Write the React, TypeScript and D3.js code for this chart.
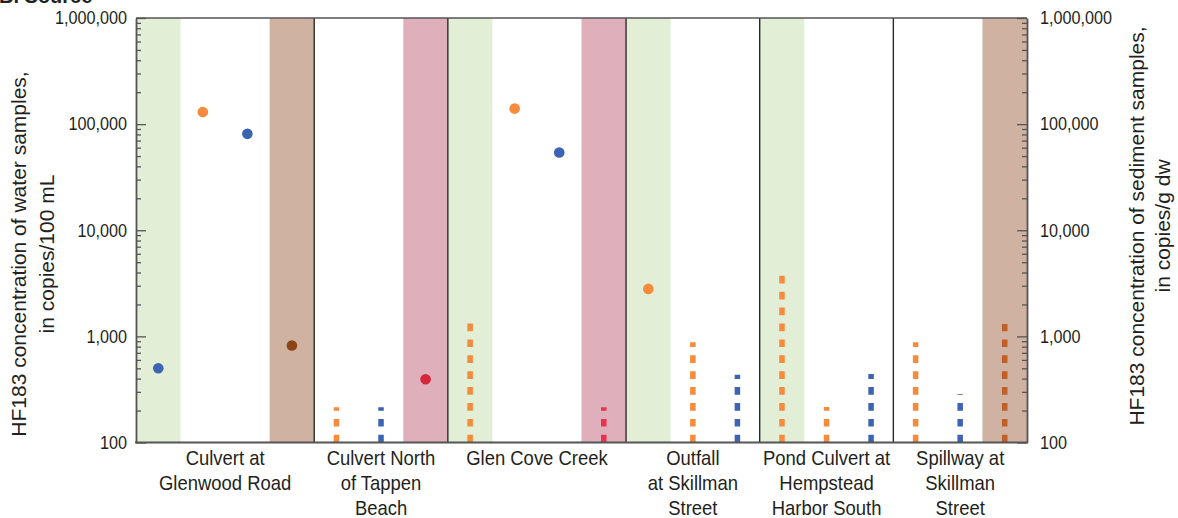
import { useEffect, useRef } from 'react';
import * as d3 from 'd3';

// sites along the x axis, each label split into its printed lines
const siteLabels: string[][] = [
  ['Culvert at', 'Glenwood Road'],
  ['Culvert North', 'of Tappen', 'Beach'],
  ['Glen Cove Creek'],
  ['Outfall', 'at Skillman', 'Street'],
  ['Pond Culvert at', 'Hempstead', 'Harbor South'],
  ['Spillway at', 'Skillman', 'Street'],
];

// one entry per sample slot (20 slots, left to right)
const slotSite = [0, 0, 0, 0, 1, 1, 1, 2, 2, 2, 2, 3, 3, 3, 4, 4, 4, 5, 5, 5];
const slotBand = [
  'green', 'none', 'none', 'brown',
  'none', 'none', 'pink',
  'green', 'none', 'none', 'pink',
  'green', 'none', 'none',
  'green', 'none', 'none',
  'none', 'none', 'brown',
];
// water = dot (left axis), sediment = dashed bar (right axis)
const slotKind = [
  'water', 'water', 'water', 'water',
  'sediment', 'sediment', 'water',
  'sediment', 'water', 'water', 'sediment',
  'water', 'sediment', 'sediment',
  'sediment', 'sediment', 'sediment',
  'sediment', 'sediment', 'sediment',
];
const slotGroup = [
  'blue', 'orange', 'blue', 'brown',
  'orange', 'blue', 'red',
  'orange', 'orange', 'blue', 'red',
  'orange', 'orange', 'blue',
  'orange', 'orange', 'blue',
  'orange', 'blue', 'brown',
];
const slotValue = [
  500, 130000, 81000, 820,
  215, 215, 395,
  1330, 140000, 54000, 215,
  2800, 880, 436,
  3770, 216, 442,
  880, 286, 1310,
];

const majorTicks = [100, 1000, 10000, 100000, 1000000];

const bandFill: Record<string, string> = {
  green: '#e2efd6',
  brown: '#cfb2a1',
  pink: '#dfb0bb',
};
const dotFill: Record<string, string> = {
  blue: '#3d63b3',
  orange: '#f68b3b',
  brown: '#8a4519',
  red: '#d5263a',
};
const dashFill: Record<string, string> = {
  blue: '#3d63b3',
  orange: '#f68b3b',
  brown: '#c05f28',
  red: '#e8334a',
};

const W = 1178;
const H = 518;
const FONT = '"Liberation Sans", Arial, sans-serif';
const INK = '#231f20';
const AXIS = '#555';
const NARROW = 0.9; // the print font is a condensed face

export default function App() {
  const svgRef = useRef<SVGSVGElement>(null);

  useEffect(() => {
    document.body.style.margin = '0';
    if (!svgRef.current) return;
    const svg = d3.select(svgRef.current);
    svg.selectAll('*').remove();

    const left = 136, right = 1027, top = 18, bottom = 442.5;

    const x = d3.scaleBand<number>()
      .domain(d3.range(slotValue.length))
      .range([left, right])
      .padding(0);
    const y = d3.scaleLog().domain([100, 1000000]).range([bottom, top]);

    const minorTicks: number[] = [];
    for (let e = 2; e < 6; e++) {
      for (let m = 2; m <= 9; m++) minorTicks.push(m * Math.pow(10, e));
    }

    // background bands
    svg.append('g')
      .selectAll('rect')
      .data(d3.range(slotValue.length).filter(i => slotBand[i] !== 'none'))
      .join('rect')
      .attr('x', i => x(i)!)
      .attr('y', top)
      .attr('width', x.bandwidth())
      .attr('height', bottom - top)
      .attr('fill', i => bandFill[slotBand[i]]);

    // site dividers
    const dividers = d3.range(1, slotSite.length).filter(i => slotSite[i] !== slotSite[i - 1]);
    svg.append('g')
      .selectAll('line')
      .data(dividers)
      .join('line')
      .attr('x1', i => x(i)!)
      .attr('x2', i => x(i)!)
      .attr('y1', top)
      .attr('y2', bottom)
      .attr('stroke', '#2a2a2a')
      .attr('stroke-width', 1.4);

    // sediment samples: dashed bars
    const sed = d3.range(slotValue.length).filter(i => slotKind[i] === 'sediment');
    svg.append('g')
      .selectAll('line')
      .data(sed)
      .join('line')
      .attr('x1', i => x(i)! + x.bandwidth() / 2)
      .attr('x2', i => x(i)! + x.bandwidth() / 2)
      .attr('y1', y(100))
      .attr('y2', i => y(slotValue[i]))
      .attr('stroke', i => dashFill[slotGroup[i]])
      .attr('stroke-width', 5.5)
      .attr('stroke-dasharray', '7.7 8.2');

    // water samples: dots
    const wat = d3.range(slotValue.length).filter(i => slotKind[i] === 'water');
    svg.append('g')
      .selectAll('circle')
      .data(wat)
      .join('circle')
      .attr('cx', i => x(i)! + x.bandwidth() / 2)
      .attr('cy', i => y(slotValue[i]))
      .attr('r', 5.3)
      .attr('fill', i => dotFill[slotGroup[i]]);

    const fmt = d3.format(',');

    // left axis
    const gl = svg.append('g').attr('transform', `translate(${left},0)`);
    gl.call(d3.axisLeft(y).tickValues(minorTicks).tickSize(-5).tickFormat(() => ''));
    gl.call(g => g.select('.domain').remove());
    const gl2 = svg.append('g').attr('transform', `translate(${left},0)`);
    gl2.call(d3.axisLeft(y).tickValues(majorTicks).tickSizeInner(-10).tickSizeOuter(0).tickPadding(9).tickFormat(d => fmt(+d)));

    // right axis
    const gr = svg.append('g').attr('transform', `translate(${right},0)`);
    gr.call(d3.axisRight(y).tickValues(minorTicks).tickSize(-5).tickFormat(() => ''));
    gr.call(g => g.select('.domain').remove());
    const gr2 = svg.append('g').attr('transform', `translate(${right},0)`);
    gr2.call(d3.axisRight(y).tickValues(majorTicks).tickSizeInner(-10).tickSizeOuter(0).tickPadding(13).tickFormat(d => fmt(+d)));

    [gl, gl2, gr, gr2].forEach(g => {
      g.selectAll('line').attr('stroke', AXIS).attr('stroke-width', 1.3);
      g.selectAll('.domain').attr('stroke', AXIS).attr('stroke-width', 1.8);
      g.selectAll<SVGTextElement, unknown>('text')
        .attr('font-family', FONT)
        .attr('font-size', 18)
        .attr('fill', INK)
        .each(function () {
          const t = d3.select(this);
          const tx = +t.attr('x');
          t.attr('x', 0).attr('transform', `translate(${tx},0) scale(${NARROW},1)`);
        });
    });

    // top and bottom frame
    svg.append('line')
      .attr('x1', left).attr('x2', right).attr('y1', top).attr('y2', top)
      .attr('stroke', AXIS).attr('stroke-width', 1.4);
    svg.append('line')
      .attr('x1', left - 1).attr('x2', right + 1).attr('y1', bottom).attr('y2', bottom)
      .attr('stroke', AXIS).attr('stroke-width', 2);

    // site labels
    const siteCenters = siteLabels.map((_, s) => {
      const idx = d3.range(slotSite.length).filter(i => slotSite[i] === s);
      return (x(idx[0])! + x(idx[idx.length - 1])! + x.bandwidth()) / 2;
    });
    const labels = svg.append('g')
      .selectAll('text')
      .data(siteLabels)
      .join('text')
      .attr('transform', (_, s) => `translate(${siteCenters[s]},0) scale(${NARROW},1)`)
      .attr('font-family', FONT)
      .attr('font-size', 20.5)
      .attr('fill', INK)
      .attr('text-anchor', 'middle');
    labels.selectAll('tspan')
      .data(d => d)
      .join('tspan')
      .attr('x', 0)
      .attr('y', (_, k) => 465 + k * 25)
      .text(d => d);

    // axis titles
    const leftTitle = svg.append('text')
      .attr('transform', 'translate(26,254) rotate(-90)')
      .attr('font-family', FONT)
      .attr('font-size', 21)
      .attr('fill', INK)
      .attr('text-anchor', 'middle');
    leftTitle.append('tspan').attr('x', 0).attr('y', 0).text('HF183 concentration of water samples,');
    leftTitle.append('tspan').attr('x', 0).attr('y', 28).text('in copies/100 mL');

    const rightTitle = svg.append('text')
      .attr('transform', 'translate(1144,226) rotate(-90)')
      .attr('font-family', FONT)
      .attr('font-size', 21)
      .attr('fill', INK)
      .attr('text-anchor', 'middle');
    rightTitle.append('tspan').attr('x', 0).attr('y', 0).text('HF183 concentration of sediment samples,');
    rightTitle.append('tspan').attr('x', 0).attr('y', 26).text('in copies/g dw');

    // panel letter, cut off by the top edge as in the source figure
    svg.append('text')
      .attr('x', -1)
      .attr('y', 3)
      .attr('font-family', FONT)
      .attr('font-weight', 'bold')
      .attr('font-size', 20)
      .attr('fill', INK)
      .text('B. Source');
  }, []);

  return (
    <svg ref={svgRef} width={W} height={H} viewBox={`0 0 ${W} ${H}`} style={{ display: 'block', background: '#fff' }} />
  );
}
